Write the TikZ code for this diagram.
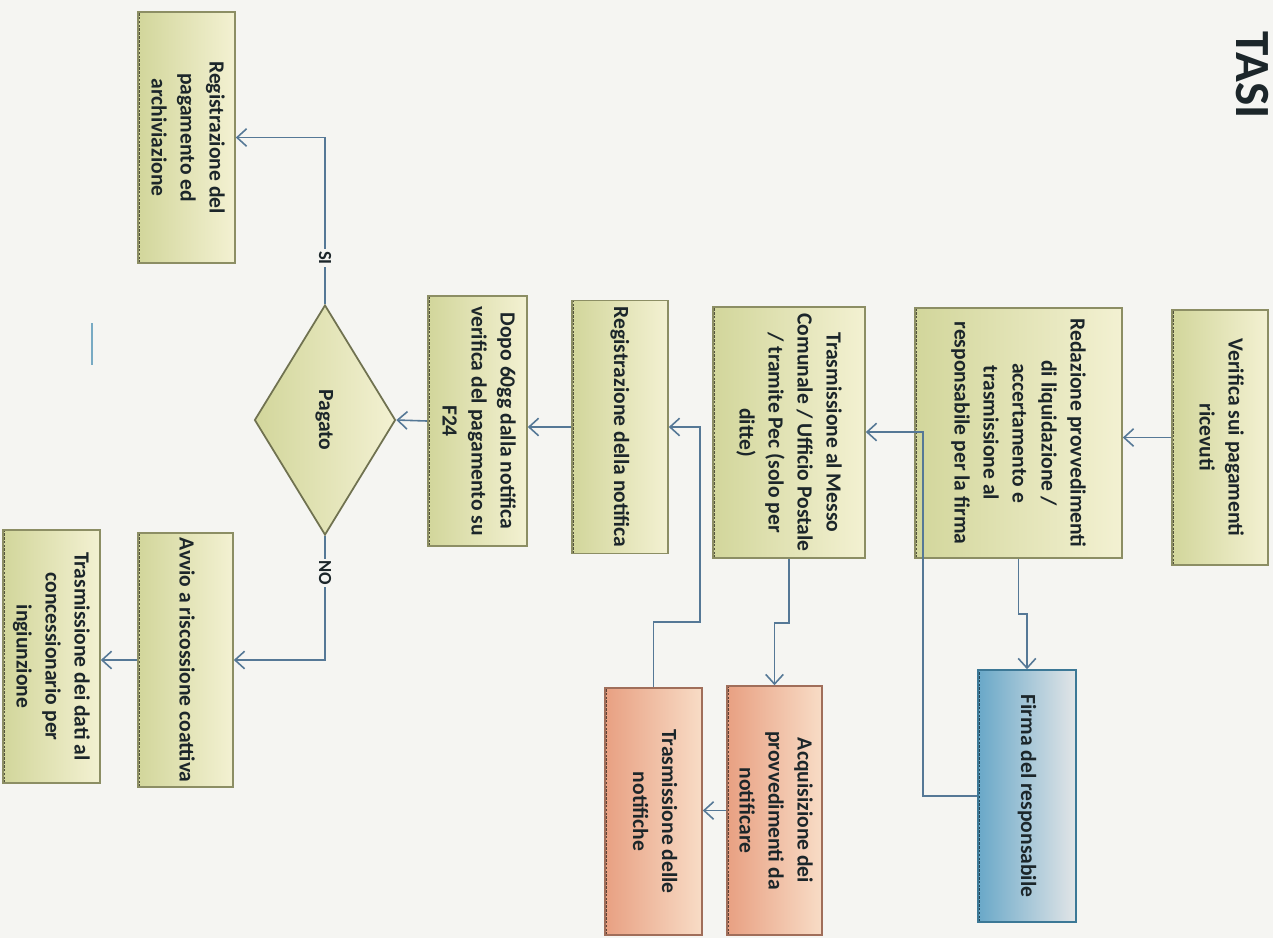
\documentclass[tikz,border=0pt]{standalone}
\usepackage{fontspec}
\setmainfont{Carlito}
\usetikzlibrary{shapes.geometric,arrows.meta}
\definecolor{bg}{RGB}{245,245,242}
\definecolor{gL}{RGB}{210,214,155}
\definecolor{gR}{RGB}{243,241,210}
\definecolor{gB}{RGB}{140,142,100}
\definecolor{pL}{RGB}{232,160,130}
\definecolor{pR}{RGB}{248,220,198}
\definecolor{pB}{RGB}{160,110,90}
\definecolor{bL}{RGB}{105,168,200}
\definecolor{bR}{RGB}{226,229,231}
\definecolor{bB}{RGB}{60,120,150}
\definecolor{ink}{RGB}{28,38,42}
\definecolor{wire}{RGB}{85,120,150}
\newcommand{\rtext}[1]{\rotatebox[origin=c]{-90}{\begin{tabular}{@{}c@{}}#1\end{tabular}}}
\tikzset{
  box/.style 2 args={rectangle, draw, line width=0.9pt, inner sep=0pt,
    minimum width=#1*0.02cm, minimum height=#2*0.02cm, text=ink,
    font=\bfseries\fontsize{12.3}{16.5}\selectfont},
  edgeshade/.style={path picture={\draw[line width=1.8pt, #1, dash pattern=on 1.5pt off 0.7pt]
      (path picture bounding box.south west) -- (path picture bounding box.north west);}},
  gbox/.style={left color=gL, right color=gR, draw=gB, edgeshade=gB!60!black},
  pbox/.style={left color=pL, right color=pR, draw=pB, edgeshade=pB!60!black},
  bbox/.style={left color=bL, right color=bR, draw=bB, edgeshade=bB!60!black},
  arr/.style={draw=wire, line width=0.9pt, -{Straight Barb[length=5.5pt,width=10pt]}},
  lbl/.style={fill=bg, inner sep=1pt, text=ink, font=\bfseries\fontsize{10.5}{12}\selectfont},
}
\begin{document}
\begin{tikzpicture}[x=0.02cm, y=-0.02cm]
\fill[bg] (0,0) rectangle (1273,938);
\useasboundingbox (0,0) rectangle (1273,938);

\node[text=ink, font=\bfseries\fontsize{28}{32}\selectfont] (title) at (1252,75) {\rotatebox[origin=c]{-90}{TASI}};

\node[box={96}{255}, gbox] (verif) at (1220,437.5) {\rtext{Verifica sui pagamenti\\ricevuti}};
\node[box={207}{250}, gbox] (redaz) at (1018.5,433) {\rtext{Redazione provvedimenti\\di liquidazione /\\accertamento e\\trasmissione al\\responsabile per la firma}};
\node[box={98}{252}, bbox] (firma) at (1027,796) {\rtext{Firma del responsabile}};
\node[box={152}{251}, gbox] (trasm) at (789,432.5) {\rtext{Trasmissione al Messo\\Comunale / Ufficio Postale\\/ tramite Pec (solo per\\ditte)}};
\node[box={95}{249}, pbox] (acq) at (774.5,810.5) {\rtext{Acquisizione dei\\provvedimenti da\\notificare}};
\node[box={97}{247}, pbox] (trnot) at (653.5,811.5) {\rtext{Trasmissione delle\\notifiche}};
\node[box={96}{253}, gbox] (regnot) at (620,427) {\rtext{Registrazione della notifica}};
\node[box={99}{250}, gbox] (dopo) at (477.5,421) {\rtext{Dopo 60gg dalla notifica\\verifica del pagamento su\\F24}};
\node[diamond, draw=gB!80!black, line width=1pt, inner sep=0pt, minimum width=141*0.02cm, minimum height=230*0.02cm,
      left color=gL, right color=gR, text=ink, font=\bfseries\fontsize{12.3}{16.5}\selectfont] (pag) at (325,420) {\rtext{Pagato}};
\node[box={97}{251}, gbox] (regpag) at (186.5,137.5) {\rtext{Registrazione del\\pagamento ed\\archiviazione}};
\node[box={95}{254}, gbox] (avvio) at (185.5,660) {\rtext{Avvio a riscossione coattiva}};
\node[box={97}{253}, gbox] (trdati) at (51.5,656.5) {\rtext{Trasmissione dei dati al\\concessionario per\\ingiunzione}};

\coordinate (c1) at (923,432);
\coordinate (c2) at (700,622);

\draw[arr] (verif.west) -- (verif.west -| redaz.east);
\draw[arr] (redaz.south) -- ++(0,55) -| (firma.north);
\draw[arr] (firma.west) -| (c1) -- (c1 -| trasm.east);
\draw[arr] (trasm.south) -- ++(0,64) -| (acq.north);
\draw[arr] (acq.west) -- (acq.west -| trnot.east);
\draw[arr] (trnot.north) |- (c2) |- (regnot.east);
\draw[arr] (regnot.west) -- (regnot.west -| dopo.east);
\draw[arr] (dopo.west) -- (pag.east);
\draw[arr] (pag.north) |- (regpag.east);
\draw[arr] (pag.south) |- (avvio.east);
\draw[arr] (avvio.west) -- (avvio.west -| trdati.east);

\node[lbl] (si) at (325,258) {\rotatebox[origin=c]{-90}{SI}};
\node[lbl] (no) at (325,573) {\rotatebox[origin=c]{-90}{NO}};

\coordinate (m1) at (92,323);
\coordinate (m2) at (92,365);
\draw[line width=1.2pt, color={rgb,255:red,120;green,170;blue,195}] (m1) -- (m2);
\end{tikzpicture}
\end{document}
